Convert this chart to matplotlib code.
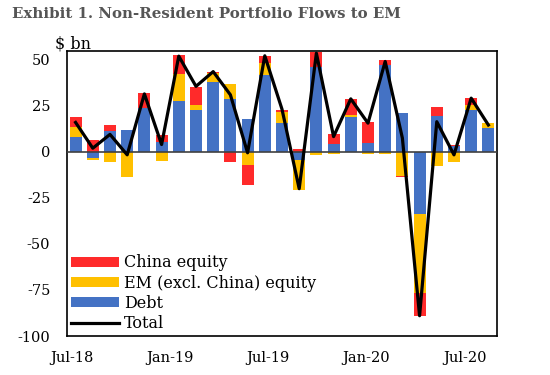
"""Non-resident portfolio flows to EM: stacked monthly bars plus total line."""

import matplotlib
matplotlib.use("Agg")
import matplotlib.pyplot as plt
import numpy as np

# Monthly flows, Jul-18 .. Jul-20 ($ bn)
months = ["Jul-18", "Aug-18", "Sep-18", "Oct-18", "Nov-18", "Dec-18",
          "Jan-19", "Feb-19", "Mar-19", "Apr-19", "May-19", "Jun-19",
          "Jul-19", "Aug-19", "Sep-19", "Oct-19", "Nov-19", "Dec-19",
          "Jan-20", "Feb-20", "Mar-20", "Apr-20", "May-20", "Jun-20", "Jul-20"]
debt = [8.3, -3.4, 11.6, 11.8, 23.7, 5.1, 27.9, 22.8, 37.9, 28.8, 17.8, 41.5,
        15.8, -4.5, 46.0, 4.2, 18.8, 4.7, 47.1, 21.0, -33.7, 19.6, 3.3, 22.5, 13.2]
em_equity = [5.1, -0.9, -5.3, -13.4, 0.0, -4.7, 14.5, 2.4, 4.9, 8.3, -7.0, 6.7,
             5.8, -16.1, -1.6, -1.1, 1.3, -1.3, -1.3, -13.0, -42.8, -7.8, -5.4, 3.0, 2.4]
china_equity = [5.3, 6.5, 3.1, 0.0, 8.5, 4.1, 10.1, 9.8, 0.8, -5.4, -11.0, 4.0,
                1.2, 1.4, 8.5, 5.4, 8.5, 11.8, 2.9, -0.7, -12.5, 4.7, 0.5, 4.0, 0.0]
total = [16.0, 2.0, 9.5, -1.6, 31.5, 4.0, 52.0, 35.6, 43.6, 31.0, -0.5, 52.2,
         23.2, -20.0, 53.6, 8.3, 28.8, 15.6, 49.1, 7.5, -89.0, 16.4, -1.6, 29.2, 14.6]
tick_labels = ["Jul-18", "Jan-19", "Jul-19", "Jan-20", "Jul-20"]

RED = "#FF2A2A"
YELLOW = "#FFC000"
BLUE = "#4472C4"
SERIF = "DejaVu Serif"

n = len(months)


def stack_bottoms(*series):
    """Bottoms for stacking positives and negatives separately."""
    pos = np.zeros(n)
    neg = np.zeros(n)
    out = []
    for s in series:
        s = np.asarray(s, dtype=float)
        out.append(np.where(s >= 0, pos, neg))
        pos = pos + np.clip(s, 0, None)
        neg = neg + np.clip(s, None, 0)
    return out


x = np.arange(n)
b_debt, b_em, b_cn = stack_bottoms(debt, em_equity, china_equity)

fig = plt.figure(figsize=(5.5, 3.75), dpi=100)
ax = fig.add_axes([0.1218, 0.104, 0.7818, 0.761])

w = 0.7
h_cn = ax.bar(x, china_equity, w, bottom=b_cn, color=RED)
h_em = ax.bar(x, em_equity, w, bottom=b_em, color=YELLOW)
h_debt = ax.bar(x, debt, w, bottom=b_debt, color=BLUE)
h_tot, = ax.plot(x, total, color="black", lw=2.3, zorder=5)
ax.axhline(0, color="#404040", lw=1.2, zorder=4)

ax.set_xlim(-0.5, n - 0.5)
ax.set_ylim(-100, 55)
ax.set_yticks([50, 25, 0, -25, -50, -75, -100])
ax.set_yticklabels(["50", "25", "0", "-25", "-50", "-75", "-100"],
                   fontfamily=SERIF, fontsize=10.5)
# the source's date axis puts labels a little left of the bars
ax.set_xticks([months.index(t) * 0.952 - 0.23 for t in tick_labels])
ax.set_xticklabels(tick_labels, fontfamily=SERIF, fontsize=10.5)
ax.tick_params(axis="y", length=0, pad=12)
ax.tick_params(axis="x", length=0, pad=11)
for sp in ax.spines.values():
    sp.set_linewidth(1.2)

ax.legend([h_cn, h_em, h_debt, h_tot],
          ["China equity", "EM (excl. China) equity", "Debt", "Total"],
          loc="lower left", frameon=False, prop={"family": SERIF, "size": 11.5},
          handlelength=3.0, handleheight=0.55, handletextpad=0.3,
          labelspacing=0.2, borderpad=0.1, borderaxespad=0.15)

fig.text(0.1, 0.859, "$ bn", fontfamily=SERIF, fontsize=11.5, va="bottom")
fig.text(0.022, 0.953, "Exhibit 1. Non-Resident Portfolio Flows to EM",
         fontfamily=SERIF, fontweight="bold", fontsize=10.8, color="#555555")

fig.savefig("out.png", dpi=100)
